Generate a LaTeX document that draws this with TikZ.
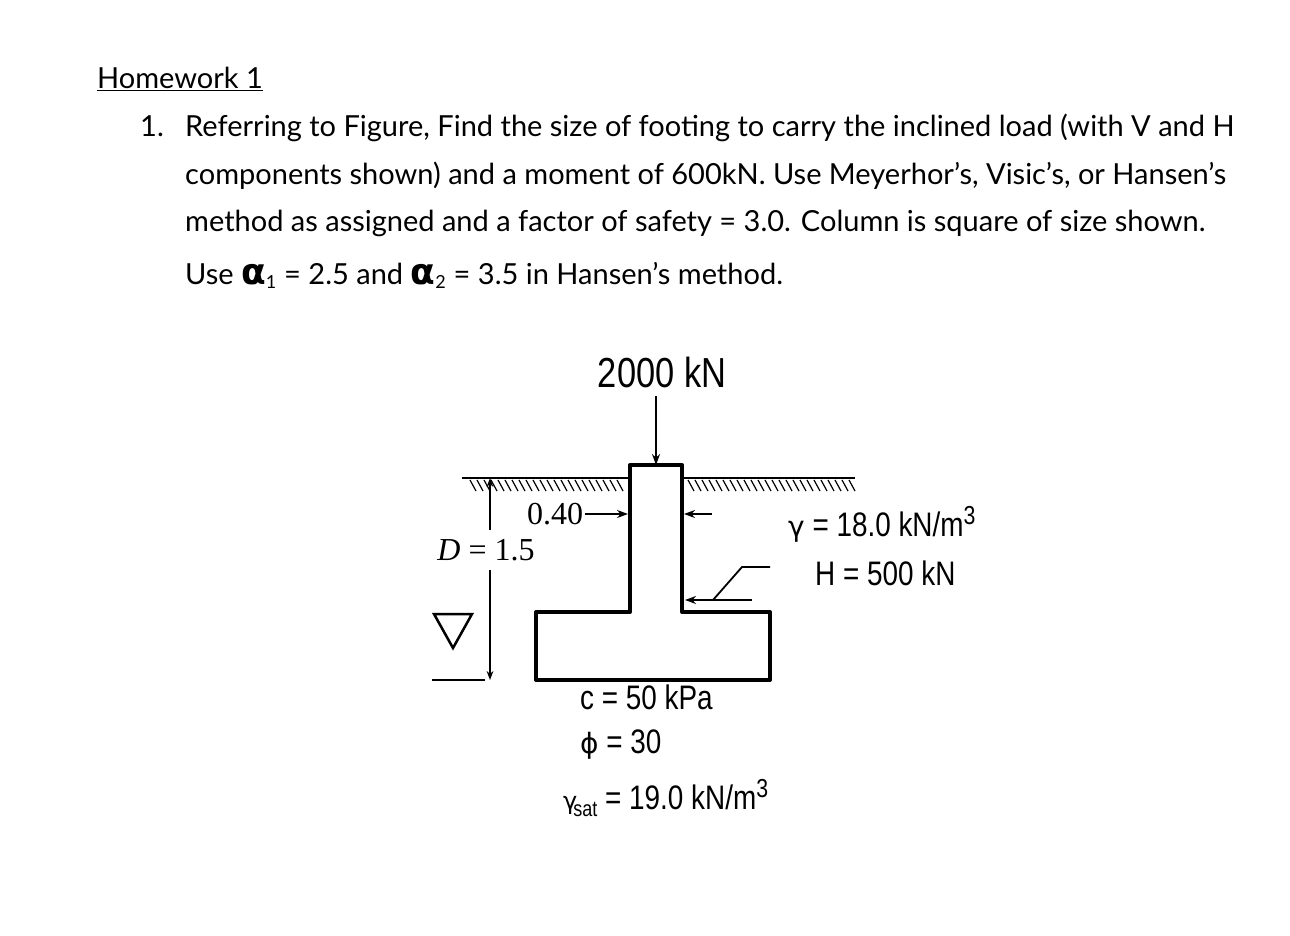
\documentclass[tikz,border=0pt]{standalone}
\usepackage{fontspec}
\setmainfont{Lato}
\newfontfamily\figfont[FakeStretch=0.82]{Liberation Sans}
\newfontfamily\figserif{Liberation Serif}
\newfontfamily\symfont{DejaVu Sans}
\usetikzlibrary{arrows.meta}
\begin{document}
\begin{tikzpicture}[x=1pt,y=-1pt,
  txt/.style={anchor=base west,font=\fontsize{29}{32}\selectfont,inner sep=0},
  fig/.style={font=\figfont\fontsize{34}{36}\selectfont,inner sep=0},
  ser/.style={font=\figserif\fontsize{32}{34}\selectfont,inner sep=0},
  thick2/.style={line width=4pt},
  arr/.style={-{Stealth[length=11pt,width=8pt]},line width=1.8pt}]
\useasboundingbox (0,0) rectangle (1290,936);
\node[txt] (hw) at (97,89) {\underline{Homework 1}};
\node[txt] (n1) at (140,137) {1.};
\node[txt] (l1) at (185,137) {Referring to Figure, Find the size of footing to carry the inclined load (with V and H};
\node[txt] (l2) at (185,185) {components shown) and a moment of 600kN. Use Meyerhor’s, Visic’s, or Hansen’s};
\node[txt] (l3) at (185,232) {method as assigned and a factor of safety = 3.0. Column is square of size shown.};
\node[txt] (l4) at (185,284) {Use {\symfont\bfseries\fontsize{36}{36}\selectfont α}\textsubscript{\fontsize{18}{18}\selectfont 1} = 2.5 and {\symfont\bfseries\fontsize{36}{36}\selectfont α}\textsubscript{\fontsize{18}{18}\selectfont 2} = 3.5 in Hansen’s method.};
% figure
\node[fig,font=\figfont\fontsize{42}{44}\selectfont] (load) at (662,372) {2000 kN};
\coordinate (ctop) at (656,465);
\draw[arr] (656,396) -- (ctop);
% ground
\draw[line width=2.5pt] (462,478) -- (630,478);
\draw[line width=2.5pt] (682,478) -- (855,478);
\foreach \x in {470,477,...,622} {\draw[line width=1.2pt] (\x,480) -- (\x+6,491);}
\foreach \x in {688,695,...,850} {\draw[line width=1.2pt] (\x,480) -- (\x+6,491);}
% column and footing
\draw[thick2,line join=round] (630,465) -- (682,465) -- (682,612) -- (770,612) -- (770,680) -- (536,680) -- (536,612) -- (630,612) -- cycle;
% 0.40
\node[ser] (w) at (555,514) {0.40};
\draw[arr] (585,514) -- (628,514);
\draw[arr] (712,514) -- (684,514);
% D
\node[ser] (D) at (486,550) {\textit{D} = 1.5};
\draw[-{Stealth[length=9pt]},line width=1.3pt] (490,530) -- (490,478);
\draw[-{Stealth[length=9pt]},line width=1.3pt] (490,570) -- (490,680);
% water table
\draw[line width=2.5pt] (434,614) -- (472,614) -- (453,648) -- cycle;
\draw[line width=1.8pt] (432,680) -- (485,680);
% soil props
\node[fig,anchor=west] (g) at (788,524) {{\symfont\fontsize{28}{28}\selectfont γ} = 18.0 kN/m\raisebox{12pt}{\fontsize{26}{26}\selectfont 3}};
\node[fig,anchor=west] (H) at (815,573) {H = 500 kN};
\coordinate (hend) at (685,600);
\draw[arr] (752,600) -- (hend);
\draw[line width=1.8pt] (713,600) -- (742,567) -- (770,567);
\node[fig,anchor=west] (c) at (580,697) {c = 50 kPa};
\node[fig,anchor=west] (phi) at (580,745) {{\symfont\fontsize{28}{28}\selectfont ϕ} = 30};
\node[fig,anchor=west] (gs) at (563,798) {{\symfont\fontsize{24}{24}\selectfont γ}\hspace{-4pt}\raisebox{-7pt}{\fontsize{22}{22}\selectfont sat} = 19.0 kN/m\raisebox{12pt}{\fontsize{26}{26}\selectfont 3}};
\end{tikzpicture}
\end{document}
